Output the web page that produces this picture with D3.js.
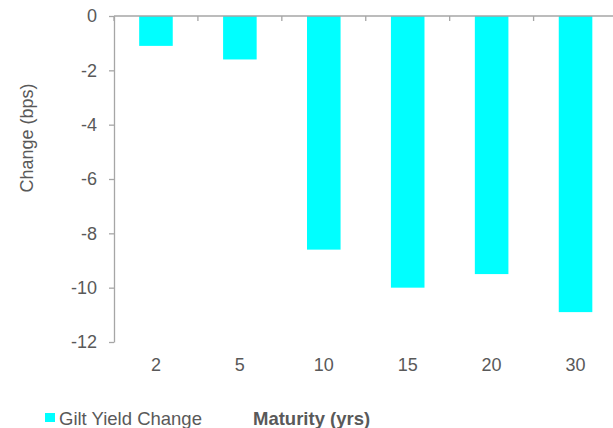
<!DOCTYPE html>
<html>
<head>
<meta charset="utf-8">
<script src="https://cdn.jsdelivr.net/npm/d3@7"></script>
<style>
  html, body { margin: 0; padding: 0; background: #fff; }
  svg { display: block; font-family: "Liberation Sans", Arial, sans-serif; }
</style>
</head>
<body>
<svg id="chart" width="613" height="428"></svg>
<script>
// Gilt yield change by maturity
const maturities = ["2", "5", "10", "15", "20", "30"];
const yieldChange = [-1.1, -1.6, -8.6, -10.0, -9.5, -10.9];
const yTicks = [0, -2, -4, -6, -8, -10, -12];
const seriesName = "Gilt Yield Change";
const xTitle = "Maturity (yrs)";
const yTitle = "Change (bps)";

(function () {
  const svg = d3.select("#chart");
  const plotLeft = 114, plotRight = 617.5, plotTop = 16, plotBottom = 342;
  const axisColor = "#a6a6a6", textColor = "#595959", barColor = "#00ffff";
  const fontFamily = "Liberation Sans, Arial, sans-serif";
  const fontSize = 18;
  const legendFontSize = 18.5;

  const x = d3.scaleBand().domain(maturities).range([plotLeft, plotRight])
    .paddingInner(0.6).paddingOuter(0.3);
  const y = d3.scaleLinear().domain([-12, 0]).range([plotBottom, plotTop]);

  // bars hang down from the zero line
  svg.append("g").selectAll("rect")
    .data(maturities.map((m, i) => ({ m, v: yieldChange[i] })))
    .join("rect")
    .attr("x", d => x(d.m))
    .attr("width", x.bandwidth())
    .attr("y", y(0))
    .attr("height", d => y(d.v) - y(0))
    .attr("fill", barColor);

  // y axis (plain hyphen for negatives)
  const yAxis = svg.append("g")
    .attr("transform", `translate(${plotLeft},0)`)
    .attr("font-family", fontFamily)
    .call(d3.axisLeft(y).tickValues(yTicks).tickSize(5).tickSizeOuter(0).tickPadding(12)
      .tickFormat(d => String(d)));
  yAxis.select(".domain").attr("stroke", axisColor).attr("stroke-width", 1.3);
  yAxis.selectAll(".tick line").attr("stroke", axisColor).attr("stroke-width", 1.3);
  yAxis.selectAll(".tick text").attr("fill", textColor).attr("font-size", fontSize);

  // zero line with category boundary ticks
  const bounds = d3.range(maturities.length + 1)
    .map(i => plotLeft + i * (plotRight - plotLeft) / maturities.length);
  const xAxisG = svg.append("g");
  xAxisG.append("line")
    .attr("x1", plotLeft).attr("x2", plotRight)
    .attr("y1", y(0)).attr("y2", y(0))
    .attr("stroke", axisColor).attr("stroke-width", 1.3);
  xAxisG.selectAll("line.tk").data(bounds).join("line").attr("class", "tk")
    .attr("x1", d => d).attr("x2", d => d)
    .attr("y1", y(0)).attr("y2", y(0) + 5)
    .attr("stroke", axisColor).attr("stroke-width", 1.3);

  // category labels below the plot
  svg.append("g").selectAll("text").data(maturities).join("text")
    .attr("x", d => x(d) + x.bandwidth() / 2)
    .attr("y", 371)
    .attr("text-anchor", "middle")
    .attr("fill", textColor)
    .attr("font-size", fontSize)
    .text(d => d);

  // y axis title
  svg.append("text")
    .attr("transform", "translate(33,138) rotate(-90)")
    .attr("text-anchor", "middle")
    .attr("fill", textColor)
    .attr("font-size", fontSize)
    .text(yTitle);

  // legend
  svg.append("rect").attr("x", 45).attr("y", 413).attr("width", 10).attr("height", 9).attr("fill", barColor);
  svg.append("text").attr("x", 59).attr("y", 425).attr("fill", textColor).attr("font-size", legendFontSize).text(seriesName);
  svg.append("text").attr("x", 253).attr("y", 425).attr("fill", textColor).attr("font-size", legendFontSize)
    .attr("font-weight", "bold").text(xTitle);
})();
</script>
</body>
</html>
